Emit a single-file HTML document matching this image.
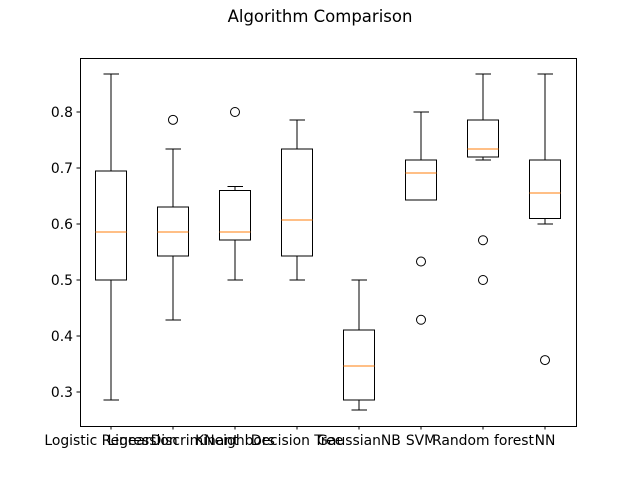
<!DOCTYPE html>
<html><head><meta charset="utf-8"><style>body{margin:0;background:#fff}svg{display:block;font-family:"DejaVu Sans","Liberation Sans",sans-serif}</style></head>
<body>
<svg id="chart" width="640" height="480">
<text x="320" y="22" text-anchor="middle" font-size="16.5">Algorithm Comparison</text>
<g id="plot" shape-rendering="crispEdges"></g>
<rect x="80.5" y="58.5" width="496" height="368" fill="none" stroke="#000" stroke-width="1" shape-rendering="crispEdges"/>
</svg>
<script>
const categories=["Logistic Regression","LinearDiscriminant","KNeighbors","Decision Tree","GaussianNB","SVM","Random forest","NN"];
const whiskerLow=[0.286,0.429,0.5,0.5,0.268,0.643,0.714,0.6];
const q1=[0.5,0.543,0.571,0.543,0.286,0.643,0.72,0.61];
const medians=[0.586,0.586,0.586,0.607,0.346,0.691,0.734,0.655];
const q3=[0.695,0.630,0.660,0.734,0.411,0.714,0.786,0.714];
const whiskerHigh=[0.868,0.734,0.667,0.786,0.5,0.8,0.868,0.868];
const fliers=[[],[0.786],[0.8],[],[],[0.533,0.429],[0.571,0.5],[0.357]];
const yTicks=[0.3,0.4,0.5,0.6,0.7,0.8];
const NS="http://www.w3.org/2000/svg";
const L=80,R=576,T=58,B=426;
function y(v){return 392-(v-0.3)*560;}
function x(i){return L+(i+0.5)*(R-L)/categories.length;}
const g=document.getElementById('plot');
function mk(tag,a){const e=document.createElementNS(NS,tag);for(const k in a)e.setAttribute(k,a[k]);g.appendChild(e);return e;}
yTicks.forEach(t=>{
 const l=mk('line',{x1:L-3.5,x2:L,y1:y(t),y2:y(t),stroke:'#000'});
 
 
 const tx=mk('text',{x:L-7,y:y(t)+5,'text-anchor':'end','font-size':'13.9'});
 tx.textContent=t.toFixed(1);
 
 
});
const bw=31;
categories.forEach((c,i)=>{
 const cx=x(i);
 const tk=mk('line',{x1:cx,x2:cx,y1:B,y2:B+3.5,stroke:'#000'});
 
 
 const tx=mk('text',{x:cx,y:B+19,'text-anchor':'middle','font-size':'13.9'});
 tx.textContent=c;
 
 
 const w1=mk('line',{x1:cx,x2:cx,y1:y(q1[i]),y2:y(whiskerLow[i]),stroke:'#000'});
 
 
 const w2=mk('line',{x1:cx,x2:cx,y1:y(q3[i]),y2:y(whiskerHigh[i]),stroke:'#000'});
 
 
 [whiskerLow[i],whiskerHigh[i]].forEach(v=>{
  const cp=mk('line',{x1:cx-bw/4,x2:cx+bw/4,y1:y(v),y2:y(v),stroke:'#000'});
  
  
 });
 const bx=mk('rect',{x:cx-bw/2,y:y(q3[i]),width:bw,height:y(q1[i])-y(q3[i]),fill:'none',stroke:'#000'});
 
 
 const md=mk('line',{x1:cx-bw/2,x2:cx+bw/2,y1:y(medians[i]),y2:y(medians[i]),stroke:'#ff7f0e'});
 
 
 fliers[i].forEach(v=>{
  const f=mk('circle',{cx:cx,cy:y(v),r:4.5,fill:'none',stroke:'#000','shape-rendering':'auto'});
  
  
 });
});
</script>
</body></html>
